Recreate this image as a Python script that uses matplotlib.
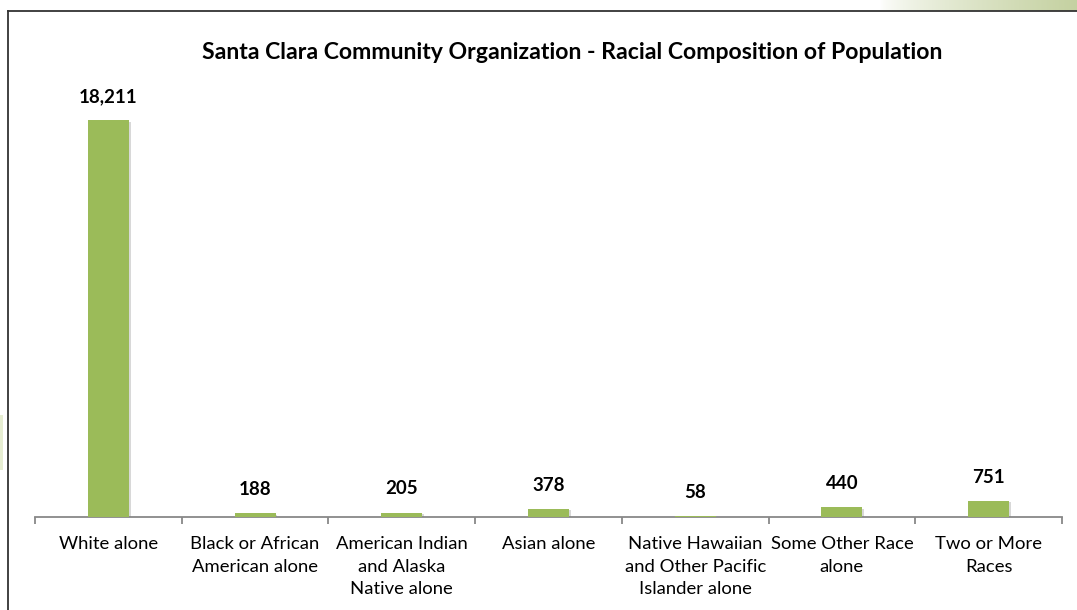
import matplotlib
matplotlib.use("Agg")
import matplotlib.pyplot as plt
import matplotlib.patheffects as pe
import numpy as np
from matplotlib.lines import Line2D

categories = ["White alone", "Black or African\nAmerican alone", "American Indian\nand Alaska\nNative alone",
              "Asian alone", "Native Hawaiian\nand Other Pacific\nIslander alone", "Some Other Race\nalone",
              "Two or More\nRaces"]
values = [18211, 188, 205, 378, 58, 440, 751]
value_labels = ["18,211", "188", "205", "378", "58", "440", "751"]
title = "Santa Clara Community Organization - Racial Composition of Population"

W, H = 1077, 610
plt.rcParams['font.family'] = ['Lato', 'DejaVu Sans']
fig = plt.figure(figsize=(W/100, H/100), dpi=100)
fig.patch.set_facecolor("white")

# top-right gradient decoration
gax = fig.add_axes([880/W, 1-11/H, (W-880)/W, 11/H])
grad = np.linspace(0, 1, 256)[None, :] ** 0.7
c0 = np.array([1.0, 1.0, 1.0]); c1 = np.array([0.77, 0.82, 0.63])
img = c0[None, None, :] * (1-grad[..., None]) + c1[None, None, :] * grad[..., None]
gax.imshow(img, aspect='auto', extent=[0, 1, 0, 1])
gax.axis('off')

# left-edge faint decoration
fig.add_artist(plt.Rectangle((0, 1-470/H), 3/W, 55/H, transform=fig.transFigure,
                             color=(0.9, 0.93, 0.82), lw=0))

# border
fig.add_artist(Line2D([8/W, 1], [1-11/H, 1-11/H], transform=fig.transFigure, color="#333333", lw=1.3))
fig.add_artist(Line2D([8/W, 8/W], [1-11/H, 0], transform=fig.transFigure, color="#333333", lw=1.3))

left, right, bottom, top = 35, 1062, 517, 81
ax = fig.add_axes([left/W, 1-bottom/H, (right-left)/W, (bottom-top)/H])
x = np.arange(len(categories))
bars = ax.bar(x, values, width=0.28, color="#9BBB59", zorder=3,
              path_effects=[pe.SimplePatchShadow(offset=(1.2, -1.2), shadow_rgbFace=(0.5, 0.5, 0.5), alpha=0.3),
                            pe.Normal()])
ax.set_xlim(-0.5, len(categories)-0.5)
ax.set_ylim(0, 20000)
for xi, v, lab in zip(x, values, value_labels):
    ax.annotate(lab, (xi, v), xytext=(0, 13), textcoords='offset points', ha='center', va='baseline',
                fontsize=13.5, fontweight='bold', color='black')

for s in ['top', 'right', 'left']:
    ax.spines[s].set_visible(False)
ax.spines['bottom'].set_color('#888888')
ax.spines['bottom'].set_linewidth(1.3)
ax.set_yticks([])
ax.set_xticks(x)
ax.set_xticklabels(categories, fontsize=13.3, linespacing=1.5, va='top')
ax.tick_params(axis='x', which='major', length=0, pad=14, colors='black')
ax.set_xticks(np.arange(-0.5, len(categories)), minor=True)
ax.tick_params(axis='x', which='minor', length=5, width=1.3, color='#888888', direction='out')

fig.text(572/W, 1-59/H, title, ha='center', va='baseline', fontsize=16.6, fontweight='bold', color='black')

fig.savefig("out.png", dpi=100, facecolor="white")
